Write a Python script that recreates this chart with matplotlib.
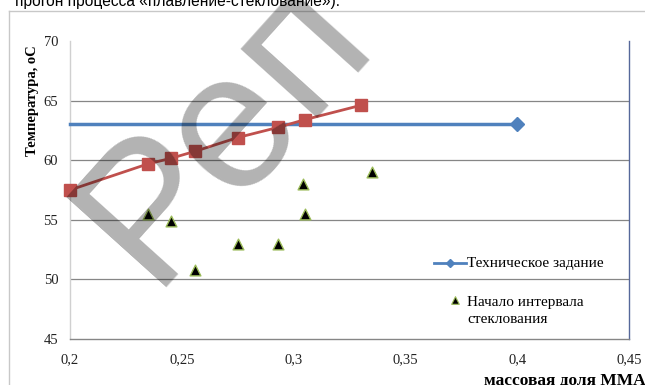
import matplotlib as mpl
import matplotlib.pyplot as plt
from matplotlib.ticker import FuncFormatter, MultipleLocator

# data
spec_x = [0.2, 0.4]
spec_y = [63.0, 63.0]

melt_x = [0.2, 0.235, 0.245, 0.256, 0.275, 0.293, 0.305, 0.33]
melt_y = [57.5, 59.7, 60.15, 60.75, 61.9, 62.75, 63.4, 64.6]

glass_x = [0.235, 0.245, 0.256, 0.275, 0.293, 0.305, 0.304, 0.335]
glass_y = [55.5, 54.9, 50.8, 53.0, 53.0, 55.5, 58.0, 59.0]

spec_label = "Техническое задание"
glass_label = ["Начало интервала", "стеклования"]

mpl.rc('font', family=['Liberation Serif', 'DejaVu Serif'], size=10.5)

fig = plt.figure(figsize=(6.45, 3.85), dpi=100)
ax = fig.add_axes([70 / 645, 1 - 339 / 385, 559 / 645, 298 / 385])

ax.set_xlim(0.2, 0.45)
ax.set_ylim(45, 70)
ax.xaxis.set_major_locator(MultipleLocator(0.05))
ax.yaxis.set_major_locator(MultipleLocator(5))


def comma(v, pos):
    s = ("%.2f" % v).rstrip("0").rstrip(".")
    return s.replace(".", ",")


ax.xaxis.set_major_formatter(FuncFormatter(comma))
ax.tick_params(length=0, labelsize=10.5, labelcolor="#222222")
ax.tick_params(axis='y', pad=8.5)
ax.tick_params(axis='x', pad=10)

for y in [50, 55, 60, 65]:
    ax.axhline(y, color="#868686", lw=0.9, zorder=1)

ax.spines['top'].set_visible(False)
ax.spines['left'].set_color("#D0D0D0")
ax.spines['bottom'].set_color("#868686")
ax.spines['right'].set_color("#56689A")
for s in ['left', 'bottom', 'right']:
    ax.spines[s].set_linewidth(1.0)

ax.plot(spec_x, spec_y, color="#4F81BD", lw=2.5, marker="D", markersize=7,
        markevery=[1], zorder=3, clip_on=False)
ax.plot(melt_x, melt_y, color="#C0504D", lw=2, marker="s", markersize=8.5,
        zorder=4, clip_on=False)
ax.scatter(glass_x, glass_y, marker="^", s=60, color="black",
           edgecolors="#9BBB59", linewidths=1.0, zorder=5)

ax.set_ylabel("Температура, оС", fontweight="bold", fontsize=10.5)
ax.yaxis.set_label_coords(-31 / 559, (339 - 101) / 298)
ax.set_xlabel("массовая доля ММА", fontweight="bold", fontsize=12.5)
ax.xaxis.set_label_coords((565 - 70) / 559, -(373 - 339) / 298)

# legend drawn by hand
tr = ax.transAxes
ax.plot([0.651, 0.708], [0.255, 0.255], color="#4F81BD", lw=2, transform=tr, clip_on=False)
ax.plot([0.68], [0.255], color="#4F81BD", marker="D", markersize=4.5, transform=tr, clip_on=False)
ax.text(0.71, 0.255, spec_label, transform=tr, va="center", ha="left", fontsize=11)
ax.scatter([0.689], [0.131], marker="^", s=30, color="black", edgecolors="#9BBB59",
           linewidths=0.8, transform=tr, clip_on=False)
ax.text(0.71, 0.124, glass_label[0], transform=tr, va="center", ha="left", fontsize=11)
ax.text(0.71, 0.067, glass_label[1], transform=tr, va="center", ha="left", fontsize=11)

# outer chart frame
fig.add_artist(plt.Line2D([9 / 645, 9 / 645], [0, 1 - 11 / 385], color="#C8C8C8", lw=1))
fig.add_artist(plt.Line2D([9 / 645, 1], [1 - 11 / 385, 1 - 11 / 385], color="#C8C8C8", lw=1))

# caption text cut at the top of the screenshot
fig.text(15 / 645, 1 - 6 / 385, "прогон процесса «плавление-стеклование»).",
         family="Liberation Sans", fontsize=11.2, va="baseline", ha="left")

# watermark
fig.text(151 / 645, 1 - 287 / 385, "Реп", family="Liberation Sans", fontsize=140,
         rotation=48, rotation_mode="anchor", ha="left", va="baseline",
         color="black", alpha=0.3)

fig.savefig("out.png", dpi=100)
